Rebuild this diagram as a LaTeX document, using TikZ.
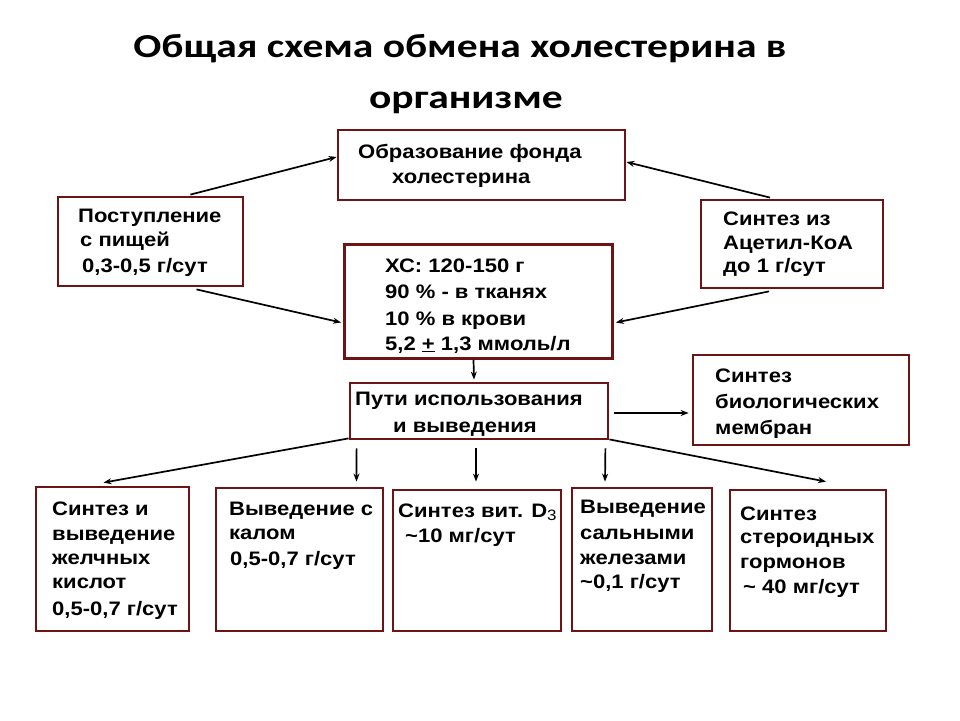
\documentclass[tikz,border=0pt]{standalone}
\usepackage{fontspec}
\setmainfont[FakeStretch=1.13]{Liberation Sans}
\newfontfamily\titlefont[FakeStretch=1.24]{Carlito}
\usetikzlibrary{arrows.meta,calc}
\definecolor{boxred}{RGB}{110,20,20}
\begin{document}
\begin{tikzpicture}[x=1pt,y=-1pt,
  box/.style={draw=boxred,line width=2.8pt,inner sep=0pt},
  txt/.style={anchor=base west,inner sep=0pt,font=\fontsize{19.5}{22}\selectfont\bfseries},
  ttl/.style={anchor=base,inner sep=0pt,font=\titlefont\fontsize{33.5}{38}\selectfont\bfseries},
  arr/.style={line width=1.7pt,-{Stealth[length=8pt,width=6pt]}}]
\useasboundingbox[fill=white] (0,0) rectangle (960,720);
% title
\node[ttl] (ttl1) at (460,57) {Общая схема обмена холестерина в};
\node[ttl] (ttl2) at (466,108) {организме};
% boxes
\node[box,minimum width=287pt,minimum height=70pt] (top) at (481.5,165) {};
\node[box,minimum width=185pt,minimum height=89pt] (lb) at (150.5,241.5) {};
\node[box,minimum width=182pt,minimum height=88pt] (rb) at (792,244) {};
\node[box,minimum width=268pt,minimum height=114pt] (cb) at (478.5,301.5) {};
\node[box,minimum width=258pt,minimum height=56pt] (pu) at (479,411) {};
\node[box,minimum width=216pt,minimum height=90pt] (mem) at (801,400) {};
\node[box,minimum width=153pt,minimum height=144pt] (b1) at (112.5,559) {};
\node[box,minimum width=167pt,minimum height=143pt] (b2) at (299.5,559.5) {};
\node[box,minimum width=168pt,minimum height=141pt] (b3) at (477,560.5) {};
\node[box,minimum width=140pt,minimum height=143pt] (b4) at (642,559.5) {};
\node[box,minimum width=156pt,minimum height=141pt] (b5) at (808,560.5) {};
% texts
\node[txt] (t1a) at (358,158) {Образование фонда};
\node[txt] (t1b) at (392,183) {холестерина};
\node[txt] (t2a) at (78,222) {Поступление};
\node[txt] (t2b) at (80,246) {с пищей};
\node[txt] (t2c) at (82,272) {0,3-0,5 г/сут};
\node[txt] (t3a) at (723,225) {Синтез из};
\node[txt] (t3b) at (723,249) {Ацетил-КоА};
\node[txt] (t3c) at (723,272) {до 1 г/сут};
\node[txt] (t4a) at (385,272) {ХС: 120-150 г};
\node[txt] (t4b) at (385,298) {90 \% - в тканях};
\node[txt] (t4c) at (385,325) {10 \% в крови};
\node[txt] (t4d) at (385,350) {5,2 \underline{+} 1,3 ммоль/л};
\node[txt] (t5a) at (355,405) {Пути использования};
\node[txt] (t5b) at (393,432) {и выведения};
\node[txt] (t6a) at (715,382) {Синтез};
\node[txt] (t6b) at (715,408) {биологических};
\node[txt] (t6c) at (715,434) {мембран};
\node[txt] (t7a) at (52,515) {Синтез и};
\node[txt] (t7b) at (52,540) {выведение};
\node[txt] (t7c) at (52,564) {желчных};
\node[txt] (t7d) at (52,588) {кислот};
\node[txt] (t7e) at (52,615) {0,5-0,7 г/сут};
\node[txt] (t8a) at (229,515) {Выведение с};
\node[txt] (t8b) at (229,539) {калом};
\node[txt] (t8c) at (230,565) {0,5-0,7 г/сут};
\node[txt] (t9a) at (398,517) {Синтез вит. D\raisebox{-0.35ex}{\mdseries\fontsize{15}{18}\selectfont 3}};
\node[txt] (t9b) at (405,542) {\textasciitilde 10 мг/сут};
\node[txt] (t10a) at (580,513) {Выведение};
\node[txt] (t10b) at (580,539) {сальными};
\node[txt] (t10c) at (580,564) {железами};
\node[txt] (t10d) at (580,588) {\textasciitilde 0,1 г/сут};
\node[txt] (t11a) at (740,520) {Синтез};
\node[txt] (t11b) at (740,543) {стероидных};
\node[txt] (t11c) at (740,568) {гормонов};
\node[txt] (t11d) at (743,593) {\textasciitilde{} 40 мг/сут};
% arrows
\draw[arr] ([xshift=-54pt,yshift=1pt]lb.north east) -- ([yshift=8pt]top.west);
\draw[arr] ([xshift=-22pt,yshift=1pt]rb.north) -- ([yshift=3pt]top.east);
\draw[arr] ([xshift=46pt,yshift=-2pt]lb.south) -- ([xshift=-2pt,yshift=-21pt]cb.west);
\draw[arr] ([xshift=-23pt,yshift=-2pt]rb.south) -- ([xshift=2pt,yshift=-21pt]cb.east);
\draw[arr] ([xshift=-5pt]cb.south) -- ([xshift=-5pt,yshift=2pt]pu.north);
\draw[arr] ([xshift=5pt,yshift=-2pt]pu.east) -- ([xshift=-3pt,yshift=-13pt]mem.west);
\draw[arr] ([yshift=2pt]pu.south west) -- ([xshift=-9pt,yshift=3pt]b1.north);
\draw[arr] ([xshift=8pt,yshift=-8pt]pu.south west) -- ([xshift=57pt,yshift=5pt]b2.north);
\draw[arr] ([xshift=-3pt,yshift=-8pt]pu.south) -- ([xshift=-1pt,yshift=7pt]b3.north);
\draw[arr] ([xshift=-4pt,yshift=-8pt]pu.south east) -- ([xshift=-37pt,yshift=5pt]b4.north);
\draw[arr] ([yshift=1pt]pu.south east) -- ([xshift=18pt,yshift=7pt]b5.north);
\end{tikzpicture}
\end{document}
